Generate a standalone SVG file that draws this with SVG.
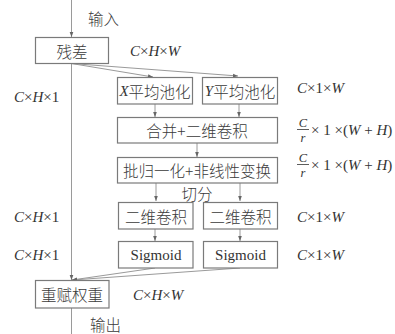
<svg xmlns="http://www.w3.org/2000/svg" width="395" height="334" viewBox="0 0 395 334">
<defs>
<marker id="ah" viewBox="0 0 6 6" refX="6" refY="3" markerWidth="5" markerHeight="5" orient="auto" markerUnits="userSpaceOnUse">
<path d="M0,0.8 L6,3 L0,5.2 Z" fill="#666"/>
</marker>
<style>
.box{fill:#fff;stroke:#7a7a7a;stroke-width:1.2}
.ln{fill:none;stroke:#9a9a9a;stroke-width:1}
.cj{font-family:"Noto Sans CJK SC","Noto Sans",sans-serif;font-size:15.5px;font-weight:300;fill:#3a3a3a}
.m{font-family:"Liberation Serif",serif;font-size:15px;fill:#333}
.i{font-style:italic}
.c{text-anchor:middle;dominant-baseline:central}
.f{font-size:12.5px}
</style>
</defs>
<rect width="395" height="334" fill="#fff"/>
<g id="connectors">
<line class="ln" x1="71.5" y1="0" x2="71.5" y2="37" marker-end="url(#ah)"/>
<line class="ln" x1="71.5" y1="63.5" x2="71.5" y2="280" marker-end="url(#ah)"/>
<line class="ln" x1="71.5" y1="308" x2="71.5" y2="334"/>
<line class="ln" x1="71.5" y1="63.5" x2="153" y2="77" marker-end="url(#ah)"/>
<line class="ln" x1="71.5" y1="63.5" x2="238" y2="76" marker-end="url(#ah)"/>
<line class="ln" x1="155" y1="104" x2="155" y2="117" marker-end="url(#ah)"/>
<line class="ln" x1="239" y1="104" x2="239" y2="117" marker-end="url(#ah)"/>
<line class="ln" x1="197" y1="143" x2="197" y2="157" marker-end="url(#ah)"/>
<line class="ln" x1="156" y1="183" x2="156" y2="201" marker-end="url(#ah)"/>
<line class="ln" x1="240" y1="183" x2="240" y2="201" marker-end="url(#ah)"/>
<line class="ln" x1="155" y1="229" x2="155" y2="241" marker-end="url(#ah)"/>
<line class="ln" x1="240" y1="229" x2="240" y2="241" marker-end="url(#ah)"/>
<line class="ln" x1="155" y1="268" x2="72" y2="280" marker-end="url(#ah)"/>
<line class="ln" x1="240" y1="268" x2="72" y2="280" marker-end="url(#ah)"/>
</g>
<g id="input-label"><text class="cj" x="88" y="25">输入</text></g>
<g id="residual">
<rect class="box" x="35.5" y="37.5" width="73" height="26"/>
<text class="cj c" x="72" y="50.5">残差</text>
</g>
<g id="x-pool">
<rect class="box" x="117.5" y="77.5" width="75" height="26.5"/>
<text class="c" x="155" y="90.5"><tspan class="m i">X</tspan><tspan class="cj">平均池化</tspan></text>
</g>
<g id="y-pool">
<rect class="box" x="202.5" y="77.5" width="75" height="26.5"/>
<text class="c" x="240" y="90.5"><tspan class="m i">Y</tspan><tspan class="cj">平均池化</tspan></text>
</g>
<g id="concat-conv">
<rect class="box" x="117.5" y="117.5" width="160" height="25.5"/>
<text class="cj c" x="197" y="130">合并+二维卷积</text>
</g>
<g id="bn-act">
<rect class="box" x="117.5" y="157.5" width="160" height="25.5"/>
<text class="cj c" x="197" y="170">批归一化+非线性变换</text>
</g>
<g id="split-label"><text class="cj c" x="197" y="193">切分</text></g>
<g id="conv-h">
<rect class="box" x="118.5" y="202.5" width="74.5" height="26.5"/>
<text class="cj c" x="156" y="215.5">二维卷积</text>
</g>
<g id="conv-w">
<rect class="box" x="203.5" y="202.5" width="74" height="26.5"/>
<text class="cj c" x="240.5" y="215.5">二维卷积</text>
</g>
<g id="sig-h">
<rect class="box" x="118.5" y="241.5" width="74.5" height="26.5"/>
<text class="m c" x="156" y="254.5">Sigmoid</text>
</g>
<g id="sig-w">
<rect class="box" x="203.5" y="241.5" width="74" height="26.5"/>
<text class="m c" x="240.5" y="254.5">Sigmoid</text>
</g>
<g id="reweight">
<rect class="box" x="35.5" y="280.5" width="73.5" height="27.5"/>
<text class="cj c" x="72" y="294">重赋权重</text>
</g>
<g id="output-label"><text class="cj" x="90" y="331">输出</text></g>
<g id="dims">
<text class="m" x="130" y="56"><tspan class="i">C</tspan>×<tspan class="i">H</tspan>×<tspan class="i">W</tspan></text>
<text class="m" x="133" y="300"><tspan class="i">C</tspan>×<tspan class="i">H</tspan>×<tspan class="i">W</tspan></text>
<text class="m" x="14" y="102"><tspan class="i">C</tspan>×<tspan class="i">H</tspan>×1</text>
<text class="m" x="14" y="222"><tspan class="i">C</tspan>×<tspan class="i">H</tspan>×1</text>
<text class="m" x="14" y="260"><tspan class="i">C</tspan>×<tspan class="i">H</tspan>×1</text>
<text class="m" x="297" y="93"><tspan class="i">C</tspan>×1×<tspan class="i">W</tspan></text>
<text class="m" x="297" y="222"><tspan class="i">C</tspan>×1×<tspan class="i">W</tspan></text>
<text class="m" x="297" y="260"><tspan class="i">C</tspan>×1×<tspan class="i">W</tspan></text>
<g id="frac1">
<text class="m i f" x="303" y="127" text-anchor="middle">C</text>
<line x1="297" y1="129.5" x2="309" y2="129.5" stroke="#333" stroke-width="0.8"/>
<text class="m i f" x="303" y="141.5" text-anchor="middle">r</text>
<text class="m" x="311" y="134.5" font-size="14.5">× 1 ×(<tspan class="i">W</tspan> + <tspan class="i">H</tspan>)</text>
</g>
<g id="frac2">
<text class="m i f" x="303" y="162" text-anchor="middle">C</text>
<line x1="297" y1="164.5" x2="309" y2="164.5" stroke="#333" stroke-width="0.8"/>
<text class="m i f" x="303" y="176.5" text-anchor="middle">r</text>
<text class="m" x="311" y="169.5" font-size="14.5">× 1 ×(<tspan class="i">W</tspan> + <tspan class="i">H</tspan>)</text>
</g>
</g>
</svg>
